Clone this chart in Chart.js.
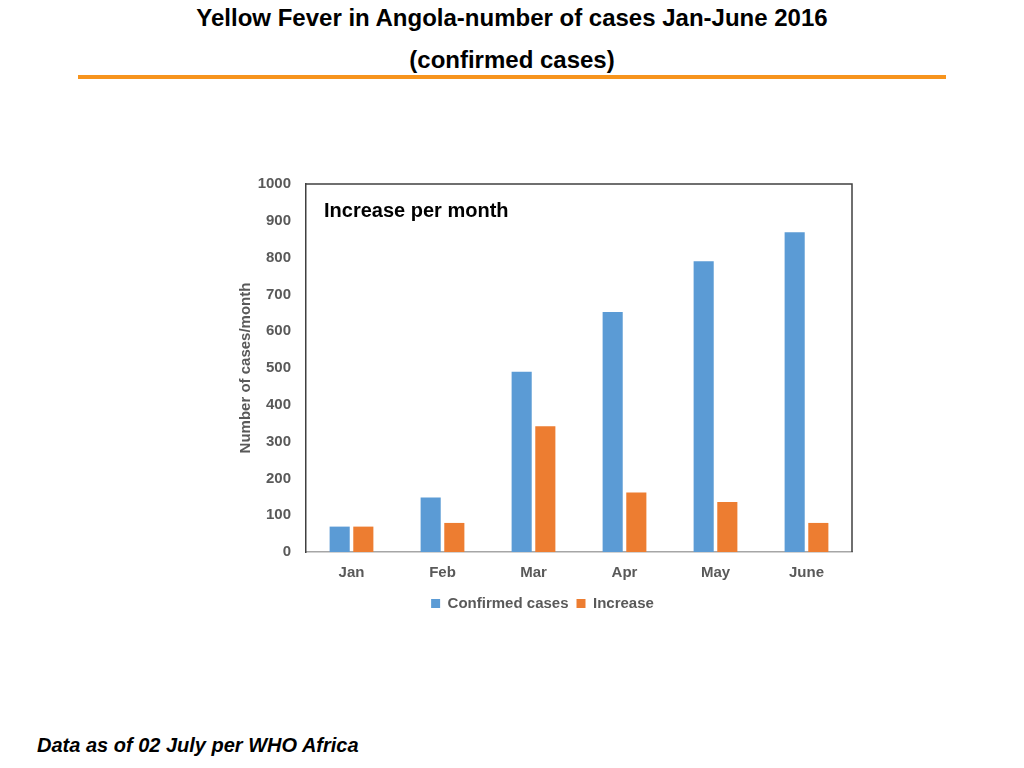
<!DOCTYPE html>
<html>
<head>
<meta charset="utf-8">
<script src="https://cdn.jsdelivr.net/npm/chart.js@4.4.1/dist/chart.umd.min.js"></script>
<style>
  html, body { margin: 0; padding: 0; background: #fff; }
  body { width: 1024px; height: 768px; position: relative; overflow: hidden;
         font-family: "Liberation Sans", Arial, sans-serif; }
  .title { position: absolute; left: 0; width: 1024px; text-align: center;
           font-weight: bold; font-size: 24px; color: #000; }
  #t1 { top: 4px; }
  #t2 { top: 46px; }
  #rule { position: absolute; left: 78px; top: 75px; width: 868px; height: 4px; background: #f7941d; }
  #foot { position: absolute; left: 37px; top: 734px; font-size: 20px; font-weight: bold;
          font-style: italic; color: #000; }
  #wrap { position: absolute; left: 220px; top: 160px; width: 660px; height: 470px; }
</style>
</head>
<body>
<div class="title" id="t1">Yellow Fever in Angola-number of cases Jan-June 2016</div>
<div class="title" id="t2">(confirmed cases)</div>
<div id="rule"></div>
<div id="wrap"><canvas id="cases-chart"></canvas></div>
<div id="foot">Data as of 02 July per WHO Africa</div>

<script>
const months    = ['Jan', 'Feb', 'Mar', 'Apr', 'May', 'June'];
const confirmed = [69, 148, 490, 652, 790, 869];
const increase  = [69, 79, 342, 162, 136, 79];

const textGray = '#595959';
const fontFam  = '"Liberation Sans", Arial, sans-serif';

// frame on top/right of plot plus the inner label
const framePlugin = {
  id: 'frame',
  afterDraw(chart) {
    const { ctx, chartArea: a } = chart;
    ctx.save();
    ctx.strokeStyle = '#404040';
    ctx.lineWidth = 1.5;
    ctx.beginPath();
    ctx.moveTo(a.left, a.top);
    ctx.lineTo(a.right, a.top);
    ctx.lineTo(a.right, a.bottom);
    ctx.stroke();
    ctx.fillStyle = '#000';
    ctx.font = 'bold 20px ' + fontFam;
    ctx.textBaseline = 'middle';
    ctx.fillText('Increase per month', a.left + 18, a.top + 27);
    ctx.restore();
  }
};

const ctx = document.getElementById('cases-chart').getContext('2d');
new Chart(ctx, {
  type: 'bar',
  data: {
    labels: months,
    datasets: [
      { label: 'Confirmed cases', data: confirmed, backgroundColor: '#5b9bd5' },
      { label: 'Increase',        data: increase,  backgroundColor: '#ed7d31' }
    ]
  },
  options: {
    responsive: true,
    maintainAspectRatio: false,
    animation: false,
    categoryPercentage: 0.52,
    barPercentage: 0.85,
    layout: { padding: { left: 13, right: 28, top: 24, bottom: 9 } },
    plugins: {
      legend: {
        position: 'bottom',
        labels: {
          color: textGray,
          boxWidth: 9, boxHeight: 9,
          padding: 8,
          font: { family: fontFam, size: 15, weight: 'bold' }
        }
      },
      tooltip: { enabled: false }
    },
    scales: {
      x: {
        grid: { display: false },
        border: { color: '#a6a6a6', width: 1.5 },
        ticks: { color: textGray, padding: 4,
                 font: { family: fontFam, size: 15, weight: 'bold' } },
        afterFit: s => { s.height = 36; }
      },
      y: {
        min: 0, max: 1000,
        grid: { display: false },
        border: { color: '#404040', width: 1.5 },
        ticks: { stepSize: 100, color: textGray, padding: 7,
                 callback: v => String(v),
                 font: { family: fontFam, size: 15, weight: 'bold' } },
        title: {
          display: true, text: 'Number of cases/month', color: textGray,
          font: { family: fontFam, size: 15, weight: 'bold' }
        },
        afterFit: s => { s.width = 73; }
      }
    }
  },
  plugins: [framePlugin]
});
</script>
</body>
</html>
